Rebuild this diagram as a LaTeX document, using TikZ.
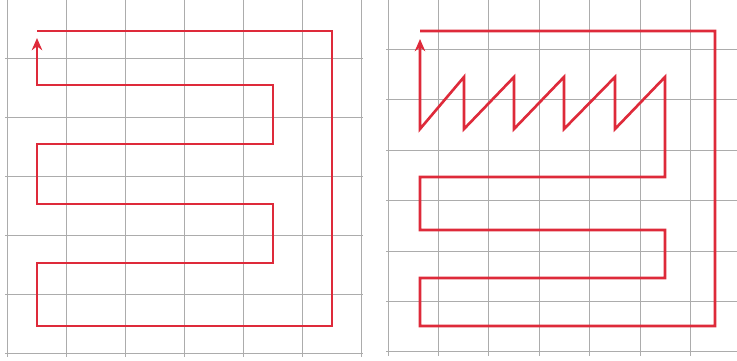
\documentclass[tikz,border=0pt]{standalone}
\usepackage{tikz}
\usetikzlibrary{arrows.meta}
\usepackage{xcolor}
\definecolor{pathred}{RGB}{222,42,58}
\definecolor{gridgray}{RGB}{172,172,172}

\begin{document}
\begin{tikzpicture}[x=0.02cm, y=-0.02cm,
    gridline/.style={gridgray, line width=0.55pt},
    route/.style={pathred, line width=1.5pt, -{Stealth[length=7pt, width=6pt]}}]
    \useasboundingbox (0,0) rectangle (737,361);
    \clip (0,0) rectangle (737,361);
    % left grid, 6 x 6 cells
    \foreach \i in {0,...,6} {
      \draw[gridline] ({7+59*\i},-1) -- ({7+59*\i},357);
      \draw[gridline] (5,{-1+59*\i}) -- (363,{-1+59*\i});
    }
    % right grid, 7 x 7 cells (cut at the right edge)
    \foreach \i in {0,...,7} {
      \draw[gridline] ({388+50.4*\i},-1) -- ({388+50.4*\i},356);
      \draw[gridline] (386,{-1+50.4*\i}) -- (745,{-1+50.4*\i});
    }
    % left route
    \draw[route] (37,31) -- (332,31) -- (332,326) -- (37,326) -- (37,263) -- (273,263)
      -- (273,204) -- (37,204) -- (37,144) -- (273,144) -- (273,85) -- (37,85) -- (37,38);
    % right route with the zigzag on top
    \draw[route] (420,31) -- (715,31) -- (715,326) -- (420,326) -- (420,278) -- (665,278)
      -- (665,230) -- (420,230) -- (420,177) -- (665,177) -- (665,77)
      \foreach \x in {615,564,514,464} { -- (\x,129) -- (\x,77) }
      -- (420,129) -- (420,39);
  \end{tikzpicture}
\end{document}
